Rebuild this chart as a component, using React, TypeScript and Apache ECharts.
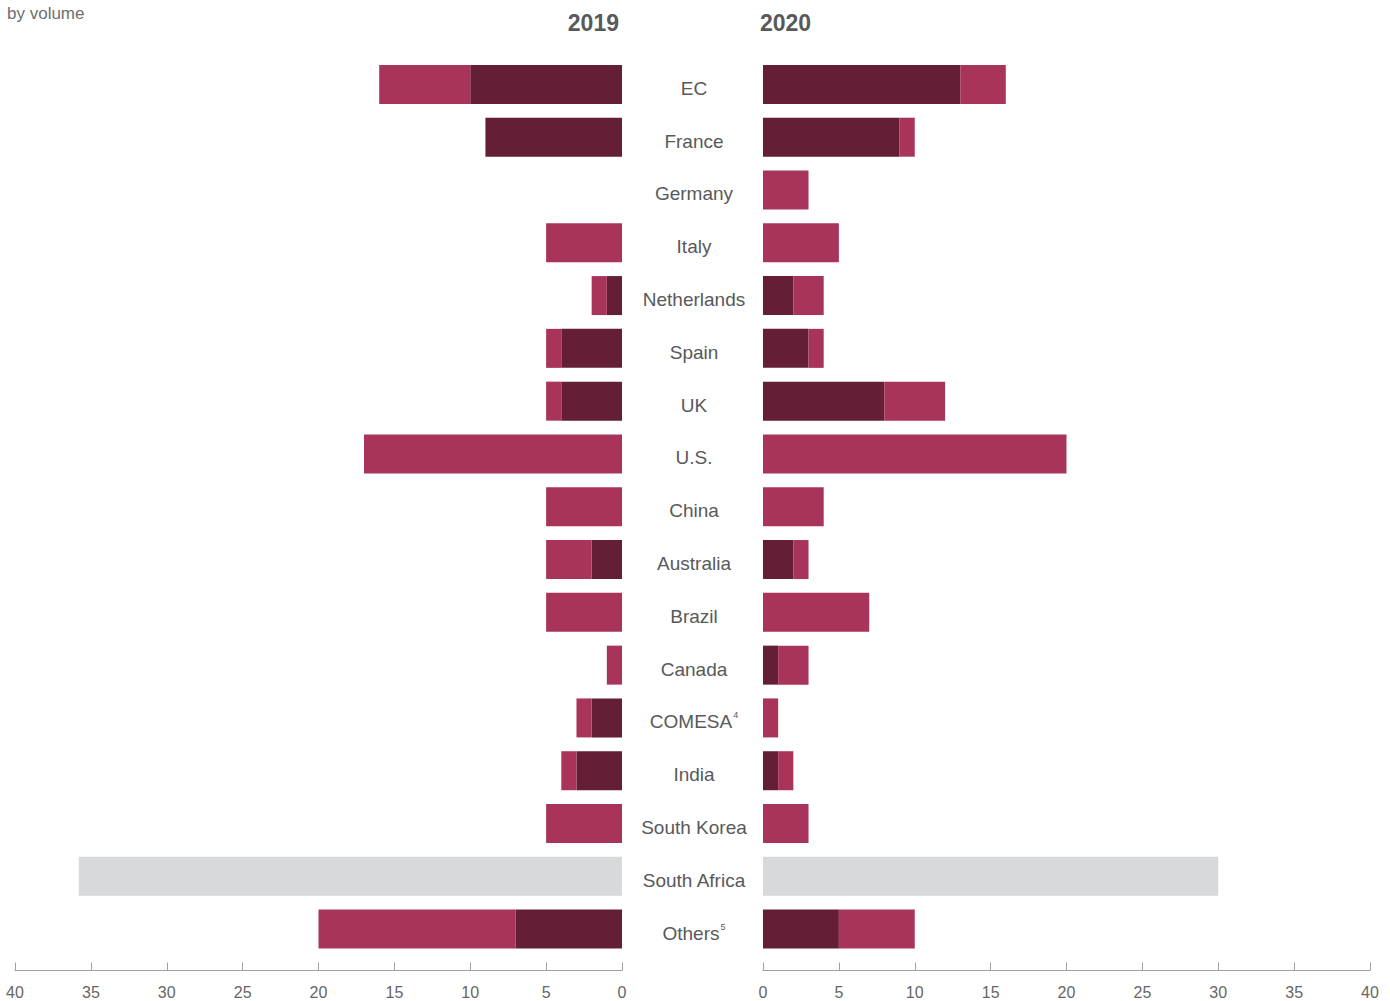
import React, { useEffect, useRef } from "react";
import * as echarts from "echarts";

const categories = [
  "EC", "France", "Germany", "Italy", "Netherlands", "Spain", "UK", "U.S.",
  "China", "Australia", "Brazil", "Canada", "COMESA", "India", "South Korea",
  "South Africa", "Others",
];
const footnotes: Record<string, string> = { COMESA: "4", Others: "5" };

const dark2019 = [10, 9, 0, 0, 1, 4, 4, 0, 0, 2, 0, 0, 2, 3, 0, 0, 7];
const pink2019 = [6, 0, 0, 5, 1, 1, 1, 17, 5, 3, 5, 1, 1, 1, 5, 0, 13];
const gray2019 = [0, 0, 0, 0, 0, 0, 0, 0, 0, 0, 0, 0, 0, 0, 0, 35.8, 0];

const dark2020 = [13, 9, 0, 0, 2, 3, 8, 0, 0, 2, 0, 1, 0, 1, 0, 0, 5];
const pink2020 = [3, 1, 3, 5, 2, 1, 4, 20, 4, 1, 7, 2, 1, 1, 3, 0, 5];
const gray2020 = [0, 0, 0, 0, 0, 0, 0, 0, 0, 0, 0, 0, 0, 0, 0, 30, 0];

const yearLabels = ["2019", "2020"];
const xTicks = { min: 0, max: 40, interval: 5 };

const DARK = "#641f36";
const PINK = "#a8345a";
const GRAY = "#d8d9db";
const FONT = "'Liberation Sans', Arial, sans-serif";

export default function App() {
  const ref = useRef<HTMLDivElement>(null);
  useEffect(() => {
    if (!ref.current) return;
    const chart = echarts.init(ref.current, undefined, { renderer: "svg" });
    const xAxisBase = (gridIndex: number, inverse: boolean) => ({
      type: "value" as const,
      gridIndex,
      inverse,
      min: xTicks.min,
      max: xTicks.max,
      interval: xTicks.interval,
      position: "bottom" as const,
      offset: 15,
      splitLine: { show: false },
      axisLine: { show: true, lineStyle: { color: "#a0a0a0", width: 1 } },
      axisTick: { show: true, inside: true, length: 8, lineStyle: { color: "#a0a0a0" } },
      axisLabel: { color: "#666", fontSize: 16, fontFamily: FONT, margin: 14 },
    });
    const barWidth = 39;
    const mk = (name: string, data: number[], color: string, idx: number, stack: string) => ({
      type: "bar" as const,
      name,
      data,
      stack,
      xAxisIndex: idx,
      yAxisIndex: idx,
      barWidth,
      itemStyle: { color },
      silent: true,
    });
    chart.setOption({
      animation: false,
      textStyle: { fontFamily: FONT },
      grid: [
        { left: 15, width: 607, top: 58, bottom: 45.5 },
        { left: 763, width: 607, top: 58, bottom: 45.5 },
      ],
      xAxis: [xAxisBase(0, true), xAxisBase(1, false)],
      yAxis: [
        {
          type: "category",
          gridIndex: 0,
          data: categories,
          inverse: true,
          position: "right",
          axisLine: { show: false },
          axisTick: { show: false },
          axisLabel: {
            show: true,
            align: "center",
            margin: 72,
            color: "#58595b",
            fontSize: 19,
            fontFamily: FONT,
            formatter: (v: string) =>
              footnotes[v] ? `{n|${v}}{s|${footnotes[v]}}` : `{n|${v}}`,
            rich: {
              n: { fontSize: 19, color: "#58595b", fontFamily: FONT, lineHeight: 24, padding: [8, 0, 0, 0] },
              s: { fontSize: 9, color: "#58595b", fontFamily: FONT, verticalAlign: "top", lineHeight: 10, padding: [5, 0, 0, 1] },
            },
          },
        },
        {
          type: "category",
          gridIndex: 1,
          data: categories,
          inverse: true,
          axisLine: { show: false },
          axisTick: { show: false },
          axisLabel: { show: false },
        },
      ],
      series: [
        mk("2019 dark", dark2019, DARK, 0, "a"),
        mk("2019 pink", pink2019, PINK, 0, "a"),
        mk("2019 gray", gray2019, GRAY, 0, "a"),
        mk("2020 dark", dark2020, DARK, 1, "b"),
        mk("2020 pink", pink2020, PINK, 1, "b"),
        mk("2020 gray", gray2020, GRAY, 1, "b"),
      ],
      graphic: [
        {
          type: "text",
          left: 7,
          top: 5,
          style: { text: "by volume", fill: "#6d6e71", fontSize: 17, fontFamily: FONT },
        },
        {
          type: "text",
          x: 619,
          y: 23,
          style: {
            text: yearLabels[0], fill: "#58595b", fontSize: 23, fontWeight: "bold",
            fontFamily: FONT, align: "right", verticalAlign: "middle",
          },
        },
        {
          type: "text",
          x: 760,
          y: 23,
          style: {
            text: yearLabels[1], fill: "#58595b", fontSize: 23, fontWeight: "bold",
            fontFamily: FONT, align: "left", verticalAlign: "middle",
          },
        },
      ],
    });
    return () => chart.dispose();
  }, []);
  return (
    <div
      ref={ref}
      style={{ position: "fixed", left: 0, top: 0, width: 1390, height: 1001, background: "#fff" }}
    />
  );
}
